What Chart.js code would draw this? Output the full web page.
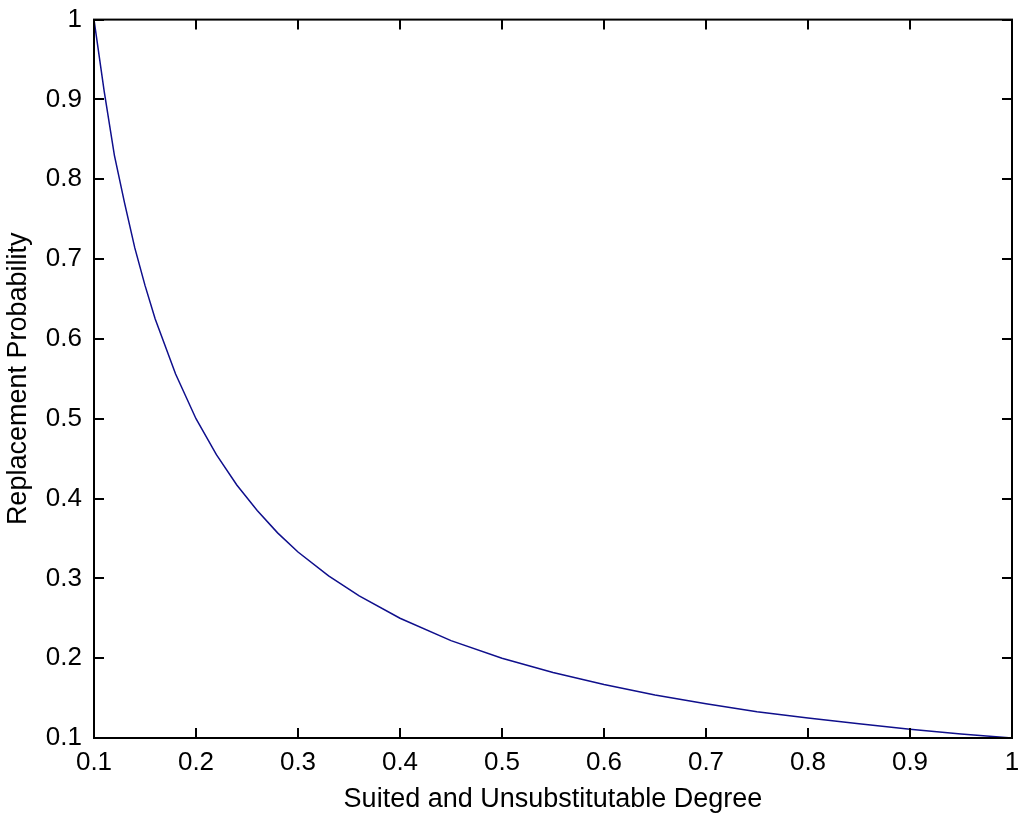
<!DOCTYPE html>
<html lang="en">

<head>
    <meta charset="UTF-8">
    <title>Replacement Probability</title>
    <style>
        html, body { margin: 0; padding: 0; background: #fff; }
        #wrap { width: 1024px; height: 816px; }
    </style>
</head>

<body>
    <div id="wrap">
        <canvas id="curve-chart"></canvas>
    </div>

    <script src="https://cdn.jsdelivr.net/npm/chart.js"></script>

    <script>
        // Punti
        const degree = [0.10, 0.11, 0.12, 0.13, 0.14, 0.15, 0.16, 0.18, 0.20, 0.22, 0.24, 0.26, 0.28, 0.30,
            0.33, 0.36, 0.40, 0.45, 0.50, 0.55, 0.60, 0.65, 0.70, 0.75, 0.80, 0.85, 0.90, 0.95, 1.00];
        const probability = [1.00, 0.91, 0.83, 0.77, 0.714, 0.667, 0.625, 0.556, 0.50, 0.455, 0.417, 0.385, 0.357, 0.333,
            0.303, 0.278, 0.25, 0.222, 0.20, 0.182, 0.167, 0.154, 0.143, 0.133, 0.125, 0.118, 0.111, 0.105, 0.10];
        const xTitle = 'Suited and Unsubstitutable Degree';
        const yTitle = 'Replacement Probability';

        const points = degree.map((x, i) => ({ x: x, y: probability[i] }));
        const fmt = v => String(Math.round(v * 10) / 10);
        const font = 'Liberation Sans, Arial, sans-serif';

        // riquadro nero e tacche interne su tutti e quattro i lati
        const boxPlugin = {
            id: 'box',
            afterDraw(chart) {
                const c = chart.ctx, a = chart.chartArea;
                const xs = chart.scales.x, ys = chart.scales.y;
                const len = 10;
                c.save();
                c.strokeStyle = '#000';
                c.lineWidth = 2;
                c.strokeRect(a.left, a.top, a.right - a.left, a.bottom - a.top);
                c.beginPath();
                xs.ticks.forEach(t => {
                    const px = Math.round(xs.getPixelForValue(t.value));
                    c.moveTo(px, a.bottom); c.lineTo(px, a.bottom - len);
                    c.moveTo(px, a.top); c.lineTo(px, a.top + len);
                });
                ys.ticks.forEach(t => {
                    const py = Math.round(ys.getPixelForValue(t.value));
                    c.moveTo(a.left, py); c.lineTo(a.left + len, py);
                    c.moveTo(a.right, py); c.lineTo(a.right - len, py);
                });
                c.stroke();
                c.restore();
            }
        };

        new Chart(document.getElementById('curve-chart'), {
            type: 'line',
            data: {
                datasets: [{
                    data: points,
                    borderColor: 'rgb(15,15,140)',
                    borderWidth: 1.5,
                    pointRadius: 0,
                    tension: 0,
                    fill: false
                }]
            },
            options: {
                responsive: true,
                maintainAspectRatio: false,
                animation: false,
                layout: { padding: { top: 11, right: 12, left: 0, bottom: 0 } },
                plugins: { legend: { display: false }, tooltip: { enabled: false } },
                scales: {
                    x: {
                        type: 'linear',
                        min: 0.1, max: 1,
                        afterFit: s => { s.height = 78; },
                        grid: { display: false },
                        border: { display: false },
                        ticks: {
                            stepSize: 0.1, autoSkip: false, maxRotation: 0,
                            callback: fmt, color: '#000', padding: 1,
                            font: { family: font, size: 26 }
                        },
                        title: {
                            display: true, text: xTitle, color: '#000',
                            font: { family: font, size: 27 }, padding: { top: 0, bottom: 0 }
                        }
                    },
                    y: {
                        type: 'linear',
                        min: 0.1, max: 1,
                        afterFit: s => { s.width = 94; },
                        grid: { display: false },
                        border: { display: false },
                        ticks: {
                            stepSize: 0.1, autoSkip: false,
                            callback: fmt, color: '#000', padding: 4,
                            font: { family: font, size: 26 }
                        },
                        title: {
                            display: true, text: yTitle, color: '#000',
                            font: { family: font, size: 27 }, padding: { top: 2, bottom: 0 }
                        }
                    }
                }
            },
            plugins: [boxPlugin]
        });
    </script>
</body>

</html>
